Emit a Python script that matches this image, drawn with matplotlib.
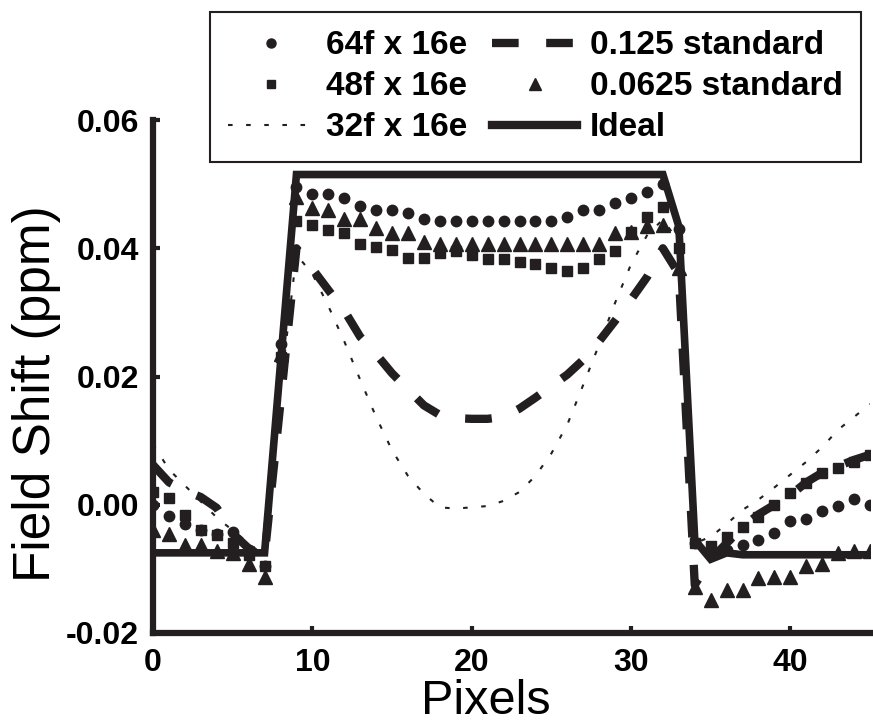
import numpy as np
import matplotlib
matplotlib.use('Agg')
import matplotlib.pyplot as plt
from matplotlib.lines import Line2D

plt.rcParams['font.family'] = ['Liberation Sans', 'DejaVu Sans']

INK = '#231f20'

# pixel index along the profile
pixels = list(range(46))

ideal = [-0.0075] * 8 + [0.022] + [0.0515] * 24 + [0.0434, -0.0055, -0.0085, -0.0075] + [-0.0078] * 9

f64 = [0.0, -0.0018, -0.003, -0.004, -0.0045, -0.0042, -0.007, -0.0095, 0.025, 0.0495,
       0.0484, 0.0484, 0.0478, 0.0466, 0.046, 0.046, 0.0455, 0.0445, 0.0442, 0.0442,
       0.0442, 0.0442, 0.0442, 0.0442, 0.0442, 0.0442, 0.0448, 0.046, 0.046, 0.047,
       0.0479, 0.0487, 0.050, 0.043, -0.006, -0.0075, -0.007, -0.0062, -0.0055, -0.0044,
       -0.0025, -0.0022, -0.001, -0.0002, 0.0009, 0.0]

f48 = [0.002, 0.001, -0.0016, -0.004, -0.0047, -0.006, -0.0078, -0.0095, 0.023, 0.0442,
       0.0437, 0.0429, 0.0424, 0.0407, 0.0402, 0.0398, 0.0385, 0.0385, 0.0393, 0.0395,
       0.039, 0.0384, 0.0384, 0.0378, 0.0376, 0.037, 0.0364, 0.037, 0.0384, 0.0395,
       0.0425, 0.0448, 0.0465, 0.040, -0.006, -0.0065, -0.005, -0.0034, -0.0019, 0.0,
       0.0019, 0.0034, 0.005, 0.0058, 0.0067, 0.0078]

f32 = [0.0095, 0.0055, 0.003, 0.0005, -0.002, -0.004, -0.006, -0.008, 0.018, 0.039,
       0.036, 0.031, 0.0255, 0.0195, 0.0137, 0.0085, 0.0045, 0.0017, -0.0004, -0.0006,
       -0.0004, -0.0002, 0.0006, 0.002, 0.0045, 0.008, 0.0125, 0.0187, 0.025, 0.0315,
       0.0375, 0.042, 0.0445, 0.041, -0.006, -0.005, -0.003, -0.0008, 0.0008, 0.0027,
       0.0047, 0.0067, 0.009, 0.0117, 0.0137, 0.0157]

std125 = [0.0062, 0.0035, 0.0022, 0.0012, -0.0005, -0.0045, -0.0068, -0.008, 0.016, 0.040,
          0.0368, 0.0335, 0.0303, 0.0262, 0.0235, 0.0205, 0.018, 0.0155, 0.014, 0.0135,
          0.0134, 0.0134, 0.0137, 0.015, 0.0167, 0.0185, 0.0203, 0.0226, 0.0255, 0.0287,
          0.032, 0.0355, 0.040, 0.036, -0.0125, -0.0085, -0.006, -0.0035, -0.0015, 0.0,
          0.0015, 0.0035, 0.005, 0.006, 0.007, 0.0078]

std0625 = [-0.004, -0.0045, -0.0063, -0.0063, -0.0072, -0.0075, -0.0092, -0.0112, 0.0235, 0.048,
           0.0463, 0.046, 0.0445, 0.0445, 0.0432, 0.0424, 0.0424, 0.041, 0.0406, 0.0406,
           0.0406, 0.0406, 0.0406, 0.0406, 0.0406, 0.0406, 0.0406, 0.0406, 0.0406, 0.0424,
           0.0426, 0.0434, 0.0437, 0.037, -0.0128, -0.0148, -0.0133, -0.0133, -0.0114, -0.0112,
           -0.0112, -0.0095, -0.0092, -0.0075, -0.0072, -0.0072]

yticks = [-0.02, 0.0, 0.02, 0.04, 0.06]
xticks = [0, 10, 20, 30, 40]

fig = plt.figure(figsize=(8.73, 7.27), dpi=100)
ax = fig.add_axes([0.1753, 0.1293, 0.8213, 0.7056])

dotted = (0, (2.2, 6.5))
dashed = (0, (3.2, 3.3))

ax.plot(pixels, f32, color=INK, lw=1.5, ls=dotted, label='32f x 16e')
ax.plot(pixels, std125, color=INK, lw=6, ls=dashed, dash_capstyle='butt',
        label='0.125 standard')
ax.plot(pixels, f48, ls='none', marker='s', ms=6.5, color=INK, label='48f x 16e')
ax.plot(pixels, f64, ls='none', marker='o', ms=7.5, color=INK, label='64f x 16e')
ax.plot(pixels, std0625, ls='none', marker='^', ms=10, color=INK, label='0.0625 standard')
ax.plot(pixels, ideal, color=INK, lw=5.5, solid_joinstyle='miter', label='Ideal')

ax.set_xlim(0, 45)
ax.set_ylim(-0.02, 0.06)
ax.set_xticks(xticks)
ax.set_yticks(yticks)
ax.set_xticklabels([str(t) for t in xticks])
ax.set_yticklabels(['%.2f' % t for t in yticks])
for lab in ax.get_xticklabels() + ax.get_yticklabels():
    lab.set_fontweight('bold')
ax.tick_params(direction='in', length=5, width=3, labelsize=23, color=INK)
ax.tick_params(axis='x', pad=11)
ax.tick_params(axis='y', pad=10)

for s in ['top', 'right']:
    ax.spines[s].set_visible(False)
for s in ['left', 'bottom']:
    ax.spines[s].set_linewidth(4.5)
    ax.spines[s].set_color(INK)

# axis titles placed like the original (slightly off-centre)
fig.text(486 / 873, 1 - 714 / 727, 'Pixels', fontsize=35, ha='center', va='baseline')
fig.text(12 / 873, 1 - 394 / 727, 'Field Shift (ppm)', fontsize=37, rotation=90,
         ha='left', va='center')

handles = [
    Line2D([], [], ls='none', marker='o', ms=6.5, color=INK),
    Line2D([], [], ls='none', marker='s', ms=5.5, color=INK),
    Line2D([], [], color=INK, lw=1.5, ls=dotted),
    Line2D([], [], color=INK, lw=6, ls=dashed, dash_capstyle='butt'),
    Line2D([], [], ls='none', marker='^', ms=8.5, color=INK),
    Line2D([], [], color=INK, lw=6),
]
labels = ['64f x 16e', '48f x 16e', '32f x 16e', '0.125 standard', '0.0625 standard', 'Ideal']
leg = fig.legend(handles, labels, ncol=2, loc='upper left', bbox_to_anchor=(0.2405, 0.9835),
                 frameon=True, fancybox=False, edgecolor=INK, framealpha=1,
                 prop={'weight': 'bold', 'size': 24}, handlelength=2.55, handletextpad=0.38,
                 columnspacing=0.75, labelspacing=0.3, borderpad=0.55, borderaxespad=0,
                 numpoints=1)
leg.get_frame().set_linewidth(1.5)

fig.savefig('out.png', dpi=100)
